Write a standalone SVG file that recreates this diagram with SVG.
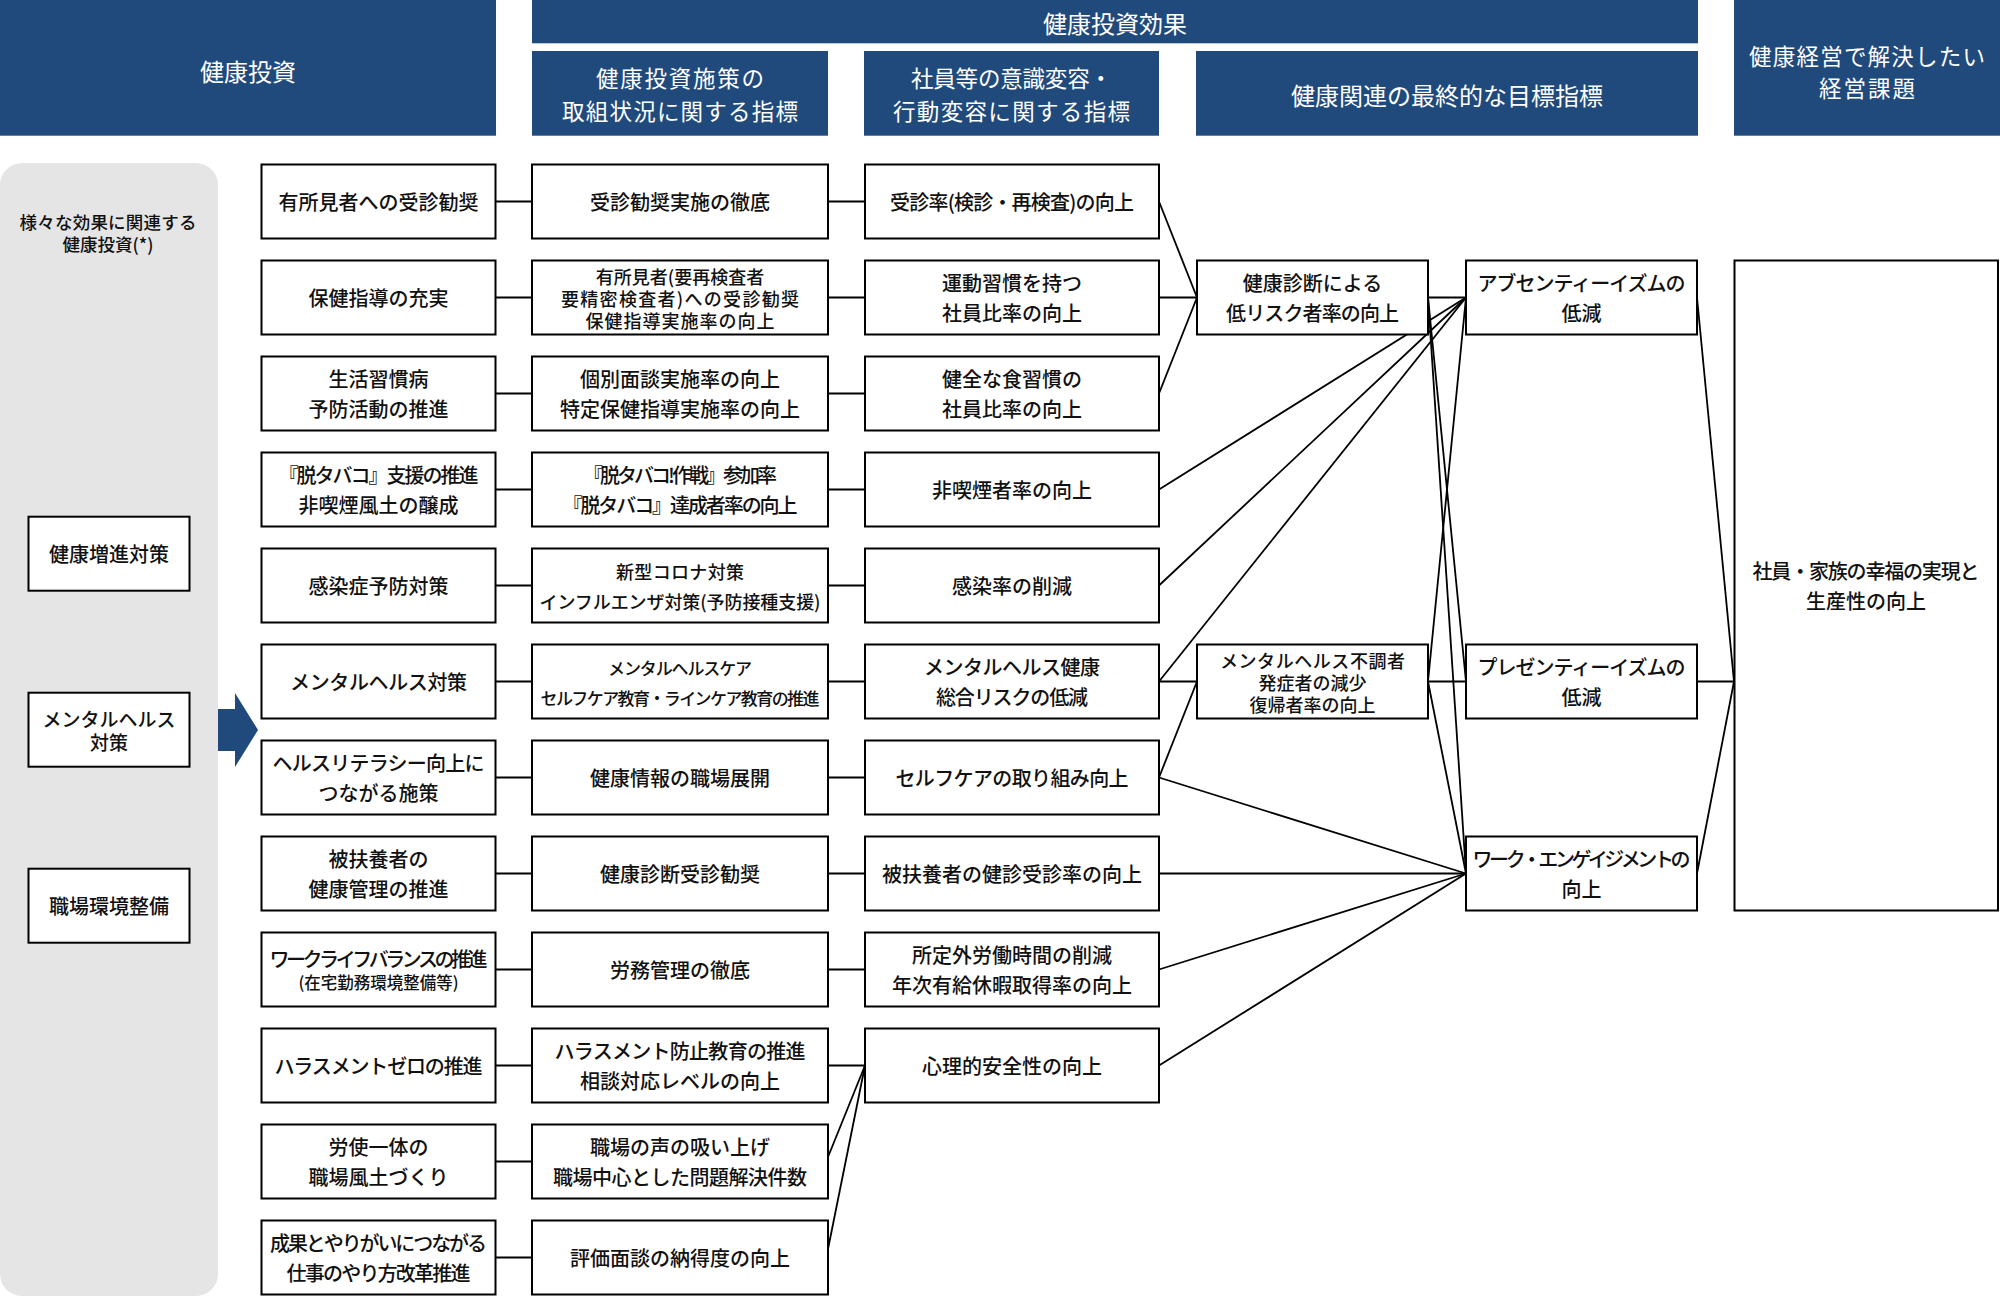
<svg xmlns="http://www.w3.org/2000/svg" width="2000" height="1296" viewBox="0 0 2000 1296">
<style>
.hdr{fill:#214a7c}
.box{fill:#fff;stroke:#000;stroke-width:2}
text{font-family:"Noto Sans CJK JP","Noto Sans",sans-serif;font-weight:500;text-anchor:middle;dominant-baseline:central;fill:#111;font-size:20px}
.ht{fill:#fff;font-size:24px;font-weight:400}
.ht2{fill:#fff;font-size:22.5px;font-weight:400}
.s3{font-size:18px}
.s17{font-size:17px}
.conn line{stroke:#000;stroke-width:1.8;fill:none}
</style>
<rect width="2000" height="1296" fill="#fff"/>

<!-- Headers -->
<g id="hdr-invest"><rect class="hdr" x="0" y="0" width="496" height="135.7"/><text class="ht" x="248" y="70">健康投資</text></g>
<g id="hdr-effect"><rect class="hdr" x="532" y="0" width="1166" height="43.3"/><text class="ht" x="1115" y="22">健康投資効果</text></g>
<g id="hdr-sub1"><rect class="hdr" x="532" y="51" width="296" height="84.7"/><text class="ht2" x="680" y="77" textLength="168">健康投資施策の</text><text class="ht2" x="680" y="109.5" textLength="236">取組状況に関する指標</text></g>
<g id="hdr-sub2"><rect class="hdr" x="864" y="51" width="295" height="84.7"/><text class="ht2" x="1011.5" y="77" textLength="201">社員等の意識変容・</text><text class="ht2" x="1011.5" y="109.5" textLength="237">行動変容に関する指標</text></g>
<g id="hdr-sub3"><rect class="hdr" x="1196" y="51" width="502" height="84.7"/><text class="ht" x="1447" y="94">健康関連の最終的な目標指標</text></g>
<g id="hdr-issue"><rect class="hdr" x="1734" y="0" width="266" height="135.7"/><text class="ht2" x="1867" y="54.5" textLength="236">健康経営で解決したい</text><text class="ht2" x="1867" y="87" textLength="96">経営課題</text></g>

<!-- Left gray panel -->
<g id="panel">
<rect x="0" y="163" width="218" height="1133" rx="22" ry="22" fill="#e5e5e5"/>
<text x="108" y="221" style="font-size:17.5px" textLength="177">様々な効果に関連する</text>
<text x="108" y="243" style="font-size:17.5px">健康投資(*)</text>
</g>
<g id="cat-health"><rect class="box" x="28.5" y="516.7" width="161" height="74"/><text x="109" y="553.7">健康増進対策</text></g>
<g id="cat-mental"><rect class="box" x="28.5" y="692.7" width="161" height="74"/><text x="109" y="718" style="font-size:19px" textLength="133">メンタルヘルス</text><text x="109" y="741.5" style="font-size:19px">対策</text></g>
<g id="cat-work"><rect class="box" x="28.5" y="868.7" width="161" height="74"/><text x="109" y="905.7">職場環境整備</text></g>
<g id="arrow"><polygon class="hdr" points="218,709 235,709 235,693 258,730 235,767 235,751 218,751"/></g>

<!-- Connectors -->
<g id="connectors" class="conn">
<line x1="495.5" y1="201.5" x2="532" y2="201.5"/>
<line x1="495.5" y1="297.5" x2="532" y2="297.5"/>
<line x1="495.5" y1="393.5" x2="532" y2="393.5"/>
<line x1="495.5" y1="489.5" x2="532" y2="489.5"/>
<line x1="495.5" y1="585.5" x2="532" y2="585.5"/>
<line x1="495.5" y1="681.5" x2="532" y2="681.5"/>
<line x1="495.5" y1="777.5" x2="532" y2="777.5"/>
<line x1="495.5" y1="873.5" x2="532" y2="873.5"/>
<line x1="495.5" y1="969.5" x2="532" y2="969.5"/>
<line x1="495.5" y1="1065.5" x2="532" y2="1065.5"/>
<line x1="495.5" y1="1161.5" x2="532" y2="1161.5"/>
<line x1="495.5" y1="1257.5" x2="532" y2="1257.5"/>

<line x1="828" y1="201.5" x2="865" y2="201.5"/>
<line x1="828" y1="297.5" x2="865" y2="297.5"/>
<line x1="828" y1="393.5" x2="865" y2="393.5"/>
<line x1="828" y1="489.5" x2="865" y2="489.5"/>
<line x1="828" y1="585.5" x2="865" y2="585.5"/>
<line x1="828" y1="681.5" x2="865" y2="681.5"/>
<line x1="828" y1="777.5" x2="865" y2="777.5"/>
<line x1="828" y1="873.5" x2="865" y2="873.5"/>
<line x1="828" y1="969.5" x2="865" y2="969.5"/>
<line x1="828" y1="1065.5" x2="865" y2="1065.5"/>
<line x1="828" y1="1157" x2="865" y2="1065.5"/>
<line x1="828" y1="1249" x2="865" y2="1065.5"/>

<line x1="1159" y1="201.5" x2="1197" y2="297.5"/>
<line x1="1159" y1="297.5" x2="1197" y2="297.5"/>
<line x1="1159" y1="393.5" x2="1197" y2="297.5"/>
<line x1="1159" y1="489.5" x2="1466" y2="297.5"/>
<line x1="1159" y1="585.5" x2="1466" y2="297.5"/>
<line x1="1159" y1="681.5" x2="1466" y2="297.5"/>
<line x1="1159" y1="681.5" x2="1197" y2="681.5"/>
<line x1="1159" y1="777.5" x2="1197" y2="681.5"/>
<line x1="1159" y1="777.5" x2="1466" y2="873.5"/>
<line x1="1159" y1="873.5" x2="1466" y2="873.5"/>
<line x1="1159" y1="969.5" x2="1466" y2="873.5"/>
<line x1="1159" y1="1065.5" x2="1466" y2="873.5"/>

<line x1="1428" y1="297.5" x2="1466" y2="297.5"/>
<line x1="1428" y1="297.5" x2="1466" y2="681.5"/>
<line x1="1428" y1="297.5" x2="1466" y2="873.5"/>
<line x1="1428" y1="681.5" x2="1466" y2="297.5"/>
<line x1="1428" y1="681.5" x2="1466" y2="681.5"/>
<line x1="1428" y1="681.5" x2="1466" y2="873.5"/>

<line x1="1697" y1="297.5" x2="1734" y2="681.5"/>
<line x1="1697" y1="681.5" x2="1734" y2="681.5"/>
<line x1="1697" y1="873.5" x2="1734" y2="681.5"/>
</g>

<!-- Column 1 -->
<g id="c1r1"><rect class="box" x="261.5" y="164.5" width="234" height="74"/><text x="378.5" y="201.5" textLength="200">有所見者への受診勧奨</text></g>
<g id="c1r2"><rect class="box" x="261.5" y="260.5" width="234" height="74"/><text x="378.5" y="297.5">保健指導の充実</text></g>
<g id="c1r3"><rect class="box" x="261.5" y="356.5" width="234" height="74"/><text x="378.5" y="378.5">生活習慣病</text><text x="378.5" y="408.5">予防活動の推進</text></g>
<g id="c1r4"><rect class="box" x="261.5" y="452.5" width="234" height="74"/><text x="378.5" y="474.5" textLength="200">『脱タバコ』支援の推進</text><text x="378.5" y="504.5">非喫煙風土の醸成</text></g>
<g id="c1r5"><rect class="box" x="261.5" y="548.5" width="234" height="74"/><text x="378.5" y="585.5">感染症予防対策</text></g>
<g id="c1r6"><rect class="box" x="261.5" y="644.5" width="234" height="74"/><text x="378.5" y="681.5" textLength="177">メンタルヘルス対策</text></g>
<g id="c1r7"><rect class="box" x="261.5" y="740.5" width="234" height="74"/><text x="378.5" y="762.5" textLength="212">ヘルスリテラシー向上に</text><text x="378.5" y="792.5">つながる施策</text></g>
<g id="c1r8"><rect class="box" x="261.5" y="836.5" width="234" height="74"/><text x="378.5" y="858.5">被扶養者の</text><text x="378.5" y="888.5">健康管理の推進</text></g>
<g id="c1r9"><rect class="box" x="261.5" y="932.5" width="234" height="74"/><text x="378.5" y="958" textLength="218">ワークライフバランスの推進</text><text x="378.5" y="982" style="font-size:16.5px">(在宅勤務環境整備等)</text></g>
<g id="c1r10"><rect class="box" x="261.5" y="1028.5" width="234" height="74"/><text x="378.5" y="1065.5" textLength="208">ハラスメントゼロの推進</text></g>
<g id="c1r11"><rect class="box" x="261.5" y="1124.5" width="234" height="74"/><text x="378.5" y="1146.5">労使一体の</text><text x="378.5" y="1176.5">職場風土づくり</text></g>
<g id="c1r12"><rect class="box" x="261.5" y="1220.5" width="234" height="74"/><text x="378.5" y="1242.5" textLength="217">成果とやりがいにつながる</text><text x="378.5" y="1272.5" textLength="184">仕事のやり方改革推進</text></g>

<!-- Column 2 -->
<g id="c2r1"><rect class="box" x="532" y="164.5" width="296" height="74"/><text x="680" y="201.5">受診勧奨実施の徹底</text></g>
<g id="c2r2"><rect class="box" x="532" y="260.5" width="296" height="74"/><text class="s3" x="680" y="276">有所見者(要再検査者</text><text class="s3" x="680" y="298" textLength="238">要精密検査者)への受診勧奨</text><text class="s3" x="680" y="320" textLength="189">保健指導実施率の向上</text></g>
<g id="c2r3"><rect class="box" x="532" y="356.5" width="296" height="74"/><text x="680" y="378.5">個別面談実施率の向上</text><text x="680" y="408.5">特定保健指導実施率の向上</text></g>
<g id="c2r4"><rect class="box" x="532" y="452.5" width="296" height="74"/><text x="680" y="474.5" textLength="194">『脱タバコ!作戦』参加率</text><text x="680" y="504.5" textLength="235">『脱タバコ』達成者率の向上</text></g>
<g id="c2r5"><rect class="box" x="532" y="548.5" width="296" height="74"/><text class="s3" x="680" y="570.5" textLength="128">新型コロナ対策</text><text class="s3" x="680" y="600.5" textLength="281">インフルエンザ対策(予防接種支援)</text></g>
<g id="c2r6"><rect class="box" x="532" y="644.5" width="296" height="74"/><text class="s17" x="680" y="667" textLength="144">メンタルヘルスケア</text><text class="s17" x="680" y="697" textLength="279">セルフケア教育・ラインケア教育の推進</text></g>
<g id="c2r7"><rect class="box" x="532" y="740.5" width="296" height="74"/><text x="680" y="777.5">健康情報の職場展開</text></g>
<g id="c2r8"><rect class="box" x="532" y="836.5" width="296" height="74"/><text x="680" y="873.5">健康診断受診勧奨</text></g>
<g id="c2r9"><rect class="box" x="532" y="932.5" width="296" height="74"/><text x="680" y="969.5">労務管理の徹底</text></g>
<g id="c2r10"><rect class="box" x="532" y="1028.5" width="296" height="74"/><text x="680" y="1050.5" textLength="251">ハラスメント防止教育の推進</text><text x="680" y="1080.5">相談対応レベルの向上</text></g>
<g id="c2r11"><rect class="box" x="532" y="1124.5" width="296" height="74"/><text x="680" y="1146.5">職場の声の吸い上げ</text><text x="680" y="1176.5" textLength="254">職場中心とした問題解決件数</text></g>
<g id="c2r12"><rect class="box" x="532" y="1220.5" width="296" height="74"/><text x="680" y="1257.5">評価面談の納得度の向上</text></g>

<!-- Column 3 -->
<g id="c3r1"><rect class="box" x="865" y="164.5" width="294" height="74"/><text x="1012" y="201.5" textLength="244">受診率(検診・再検査)の向上</text></g>
<g id="c3r2"><rect class="box" x="865" y="260.5" width="294" height="74"/><text x="1012" y="282.5">運動習慣を持つ</text><text x="1012" y="312.5">社員比率の向上</text></g>
<g id="c3r3"><rect class="box" x="865" y="356.5" width="294" height="74"/><text x="1012" y="378.5">健全な食習慣の</text><text x="1012" y="408.5">社員比率の向上</text></g>
<g id="c3r4"><rect class="box" x="865" y="452.5" width="294" height="74"/><text x="1012" y="489.5">非喫煙者率の向上</text></g>
<g id="c3r5"><rect class="box" x="865" y="548.5" width="294" height="74"/><text x="1012" y="585.5">感染率の削減</text></g>
<g id="c3r6"><rect class="box" x="865" y="644.5" width="294" height="74"/><text x="1012" y="666.5" textLength="176">メンタルヘルス健康</text><text x="1012" y="696.5" textLength="152">総合リスクの低減</text></g>
<g id="c3r7"><rect class="box" x="865" y="740.5" width="294" height="74"/><text x="1012" y="777.5" textLength="233">セルフケアの取り組み向上</text></g>
<g id="c3r8"><rect class="box" x="865" y="836.5" width="294" height="74"/><text x="1012" y="873.5">被扶養者の健診受診率の向上</text></g>
<g id="c3r9"><rect class="box" x="865" y="932.5" width="294" height="74"/><text x="1012" y="954.5">所定外労働時間の削減</text><text x="1012" y="984.5">年次有給休暇取得率の向上</text></g>
<g id="c3r10"><rect class="box" x="865" y="1028.5" width="294" height="74"/><text x="1012" y="1065.5">心理的安全性の向上</text></g>

<!-- Column 4 -->
<g id="c4-checkup"><rect class="box" x="1197" y="260.5" width="231" height="74"/><text x="1312.5" y="282.5">健康診断による</text><text x="1312.5" y="312.5" textLength="173">低リスク者率の向上</text></g>
<g id="c4-mental"><rect class="box" x="1197" y="644.5" width="231" height="74"/><text class="s3" x="1312.5" y="660" textLength="185">メンタルヘルス不調者</text><text class="s3" x="1312.5" y="682">発症者の減少</text><text class="s3" x="1312.5" y="704">復帰者率の向上</text></g>

<!-- Column 5 -->
<g id="c5-absent"><rect class="box" x="1466" y="260.5" width="231" height="74"/><text x="1581.5" y="282.5" textLength="208">アブセンティーイズムの</text><text x="1581.5" y="312.5">低減</text></g>
<g id="c5-present"><rect class="box" x="1466" y="644.5" width="231" height="74"/><text x="1581.5" y="666.5" textLength="208">プレゼンティーイズムの</text><text x="1581.5" y="696.5">低減</text></g>
<g id="c5-engage"><rect class="box" x="1466" y="836.5" width="231" height="74"/><text x="1581.5" y="858.5" textLength="218">ワーク・エンゲイジメントの</text><text x="1581.5" y="888.5">向上</text></g>

<!-- Column 6 -->
<g id="c6-goal"><rect class="box" x="1734.5" y="260.5" width="263.5" height="650"/><text x="1866" y="570.5" textLength="227">社員・家族の幸福の実現と</text><text x="1866" y="600.5">生産性の向上</text></g>
</svg>
